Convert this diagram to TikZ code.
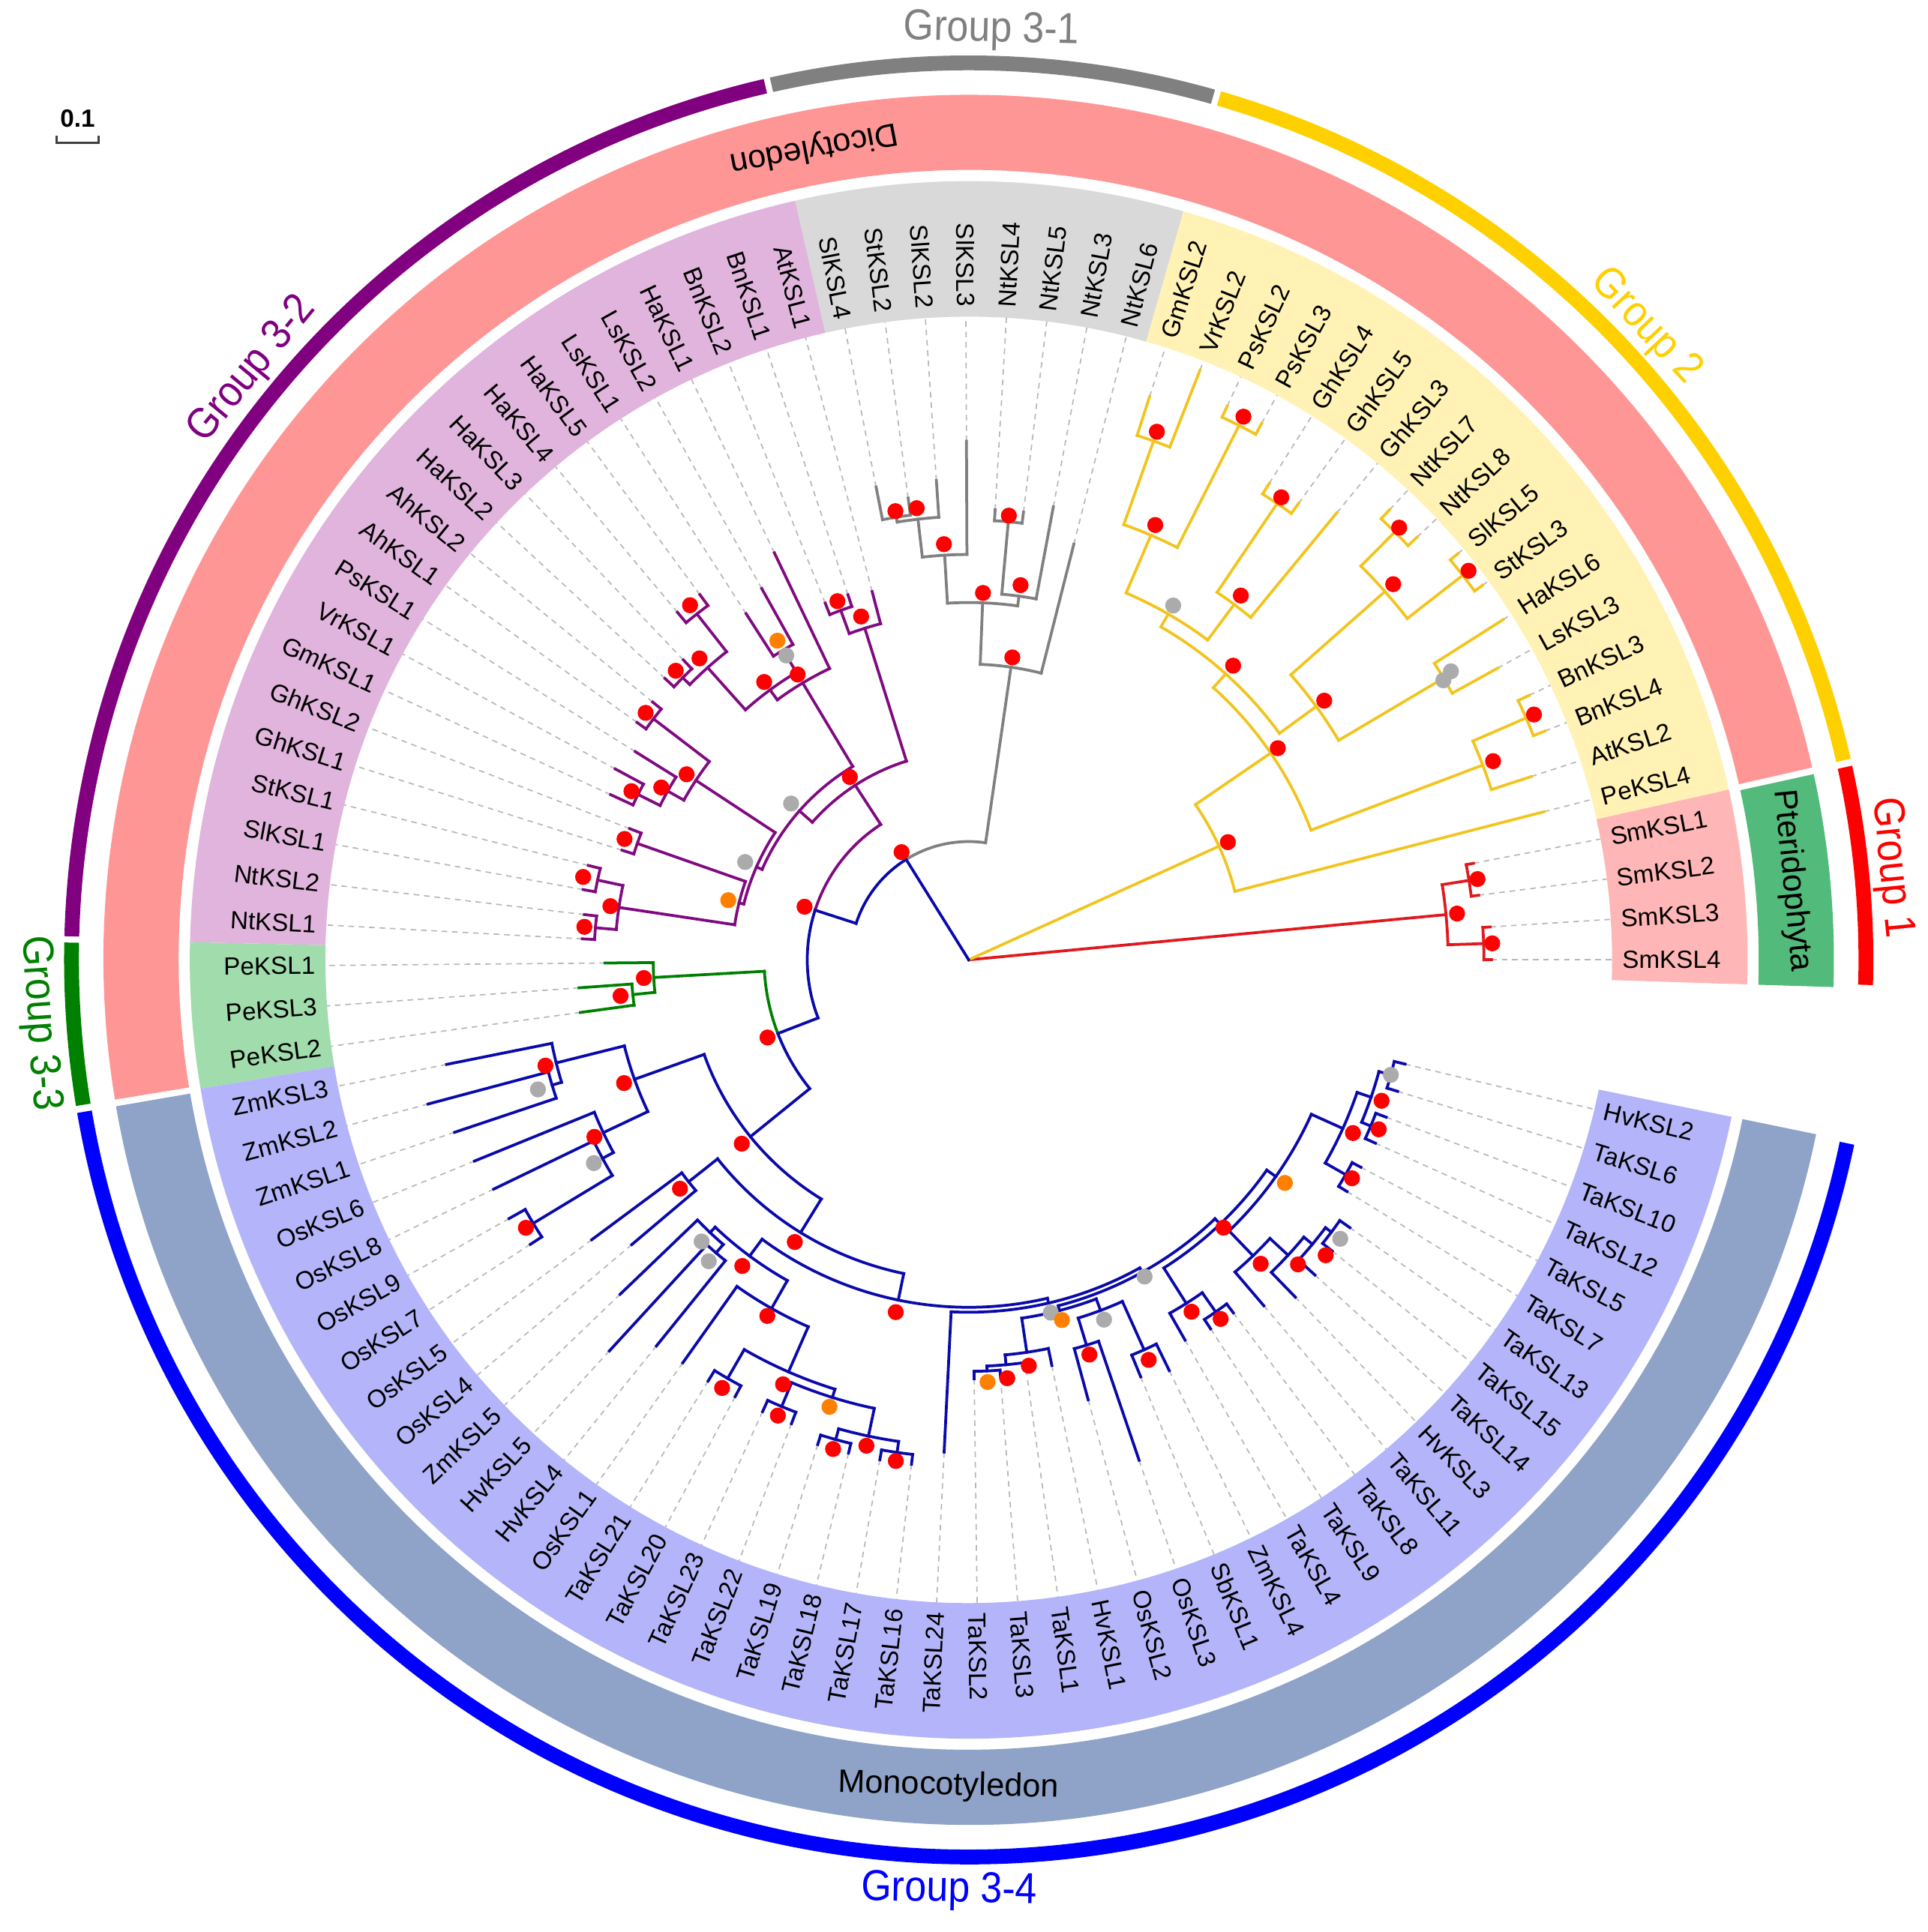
\documentclass[tikz,border=0pt]{standalone}
\usepackage{fontspec}
\setmainfont{Liberation Sans}
\newfontfamily\grpfont[FakeStretch=0.9]{Liberation Sans}

\definecolor{brRed}{RGB}{225,25,30}
\definecolor{brYel}{RGB}{242,196,30}
\definecolor{brGry}{RGB}{128,128,128}
\definecolor{brPur}{RGB}{128,10,128}
\definecolor{brGrn}{RGB}{0,128,0}
\definecolor{brBlu}{RGB}{10,10,170}
\definecolor{bdSm}{RGB}{255,182,182}
\definecolor{bdYel}{RGB}{255,242,180}
\definecolor{bdGry}{RGB}{217,217,217}
\definecolor{bdPur}{RGB}{224,180,220}
\definecolor{bdGrn}{RGB}{160,220,172}
\definecolor{bdBlu}{RGB}{180,180,250}
\definecolor{clDi}{RGB}{255,150,150}
\definecolor{clMo}{RGB}{143,162,200}
\definecolor{clPt}{RGB}{82,186,122}
\definecolor{gpRed}{RGB}{255,0,0}
\definecolor{gpYel}{RGB}{255,208,0}
\definecolor{gpGry}{RGB}{128,128,128}
\definecolor{gpPur}{RGB}{128,0,128}
\definecolor{gpGrn}{RGB}{0,128,0}
\definecolor{gpBlu}{RGB}{0,0,255}

% tree pieces in polar form (angle in degrees, radius in picture units)
\newcommand{\tstem}[4]{\draw[#1] (#2:#3) -- (#2:#4);}
\newcommand{\tbow}[4]{\draw[#1] (#3:#2) arc[start angle=#3, end angle=#4, radius=#2];}
\newcommand{\tclade}[5]{\pgfmathsetmacro\cdang{(#4+#5)/2}%
  \draw[#1] (\cdang:#2) -- (\cdang:#3);%
  \draw[#1] (#4:#3) arc[start angle=#4, end angle=#5, radius=#3];}
\newcommand{\tleaf}[4]{\pgfmathsetmacro\lfang{3.61*#3}%
  \draw[tipline] (\lfang:#4) -- (\lfang:522);%
  \draw[#1] (\lfang:#2) -- (\lfang:#4);}
\newcommand{\tdot}[3]{\fill[#1] (#2:#3) circle[radius=6.5];}
\newcommand{\ringpart}[5]{\fill[#1] (#2:#4) arc[start angle=#2, end angle=#3, radius=#4]
  -- (#3:#5) arc[start angle=#3, end angle=#2, radius=#5] -- cycle;}

\begin{document}
\begin{tikzpicture}[
    x=0.02cm, y=0.02cm,
    tbr/.style={line width=1.3pt, line cap=rect},
    tRed/.style={tbr, draw=brRed},
    tYel/.style={tbr, draw=brYel},
    tGry/.style={tbr, draw=brGry},
    tPur/.style={tbr, draw=brPur},
    tGrn/.style={tbr, draw=brGrn},
    tBlu/.style={tbr, draw=brBlu},
    tipline/.style={draw=black!28, line width=0.6pt, dash pattern=on 2.6pt off 2.2pt},
    dR/.style={fill=red},
    dO/.style={fill=orange},
    dG/.style={fill=black!33},
    leaflab/.style={inner sep=0pt, font=\fontsize{11.5}{13}\selectfont},
    grplab/.style={inner sep=0pt, font=\grpfont\fontsize{20}{22}\selectfont},
    cladelab/.style={inner sep=0pt, font=\fontsize{15}{17}\selectfont},
  ]
  \useasboundingbox (-786,-789) rectangle (778,779);

  % label bands
  \ringpart{bdSm}{-1.805}{12.635}{522}{632}
  \ringpart{bdYel}{12.635}{74.005}{522}{632}
  \ringpart{bdGry}{74.005}{102.885}{522}{632}
  \ringpart{bdPur}{102.885}{178.695}{522}{632}
  \ringpart{bdGrn}{178.695}{189.525}{522}{632}
  \ringpart{bdBlu}{189.525}{348.365}{522}{632}

  % clade bands
  \ringpart{clPt}{-1.805}{12.4}{641}{702}
  \ringpart{clDi}{12.85}{189.3}{641}{702}
  \ringpart{clMo}{189.75}{348.365}{641}{702}

  % group rings
  \ringpart{gpRed}{-1.6}{12.4}{722}{734}
  \ringpart{gpYel}{12.85}{73.8}{722}{734}
  \ringpart{gpGry}{74.2}{102.7}{722}{734}
  \ringpart{gpPur}{103.1}{178.5}{722}{734}
  \ringpart{gpGrn}{178.9}{189.3}{722}{734}
  \ringpart{gpBlu}{189.75}{348.2}{722}{734}

  % root
  \tstem{tRed}{5.415}{0}{389}
  \tstem{tYel}{24.424}{0}{223}
  \tstem{tBlu}{121.928}{0}{96}

  % group 1
  \tbow{tRed}{389}{1.805}{9.025}
  \tclade{tRed}{389}{411}{7.22}{10.83}
  \tleaf{tRed}{411}{2}{417} \tleaf{tRed}{411}{3}{417}
  \tclade{tRed}{389}{418}{0}{3.61}
  \tleaf{tRed}{418}{0}{424} \tleaf{tRed}{418}{1}{424}

  % group 2
  \tbow{tYel}{223}{14.44}{34.408}
  \tleaf{tYel}{223}{4}{482}
  \tclade{tYel}{223}{297}{20.7575}{48.058}
  \tclade{tYel}{297}{446}{18.05}{23.465}
  \tleaf{tYel}{446}{5}{480}
  \tclade{tYel}{446}{493}{21.66}{25.27}
  \tleaf{tYel}{493}{6}{503} \tleaf{tYel}{493}{7}{503}
  \tclade{tYel}{297}{312}{36.1}{60.016}
  \tclade{tYel}{312}{349}{30.685}{41.515}
  \tclade{tYel}{349}{448}{28.88}{32.49}
  \tleaf{tYel}{448}{8}{490} \tleaf{tYel}{448}{9}{514}
  \tclade{tYel}{349}{451}{37.905}{45.125}
  \tclade{tYel}{451}{508}{36.1}{39.71}
  \tleaf{tYel}{508}{10}{516} \tleaf{tYel}{508}{11}{516}
  \tclade{tYel}{451}{490}{43.32}{46.93}
  \tleaf{tYel}{490}{12}{500} \tleaf{tYel}{490}{13}{500}
  \tclade{tYel}{312}{324}{53.2475}{66.785}
  \tclade{tYel}{324}{360}{50.54}{55.955}
  \tleaf{tYel}{360}{14}{470}
  \tclade{tYel}{360}{447}{54.15}{57.76}
  \tleaf{tYel}{447}{15}{457} \tleaf{tYel}{447}{16}{457}
  \tclade{tYel}{324}{375}{63.175}{70.395}
  \tclade{tYel}{375}{486}{61.37}{64.98}
  \tleaf{tYel}{486}{17}{496} \tleaf{tYel}{486}{18}{496}
  \tclade{tYel}{375}{447}{68.59}{72.2}
  \tleaf{tYel}{447}{19}{514} \tleaf{tYel}{447}{20}{480}

  % backbone
  \tbow{tGry}{96}{81.789}{121.928}
  \tbow{tBlu}{96}{121.928}{162.067}

  % group 3-1
  \tclade{tGry}{96}{240}{75.81}{87.768}
  \tleaf{tGry}{240}{21}{348}
  \tclade{tGry}{240}{290}{82.1275}{93.409}
  \tclade{tGry}{290}{298}{79.42}{84.835}
  \tleaf{tGry}{298}{22}{374}
  \tclade{tGry}{298}{357}{83.03}{86.64}
  \tleaf{tGry}{357}{23}{366} \tleaf{tGry}{357}{24}{366}
  \tclade{tGry}{290}{329}{90.25}{96.5675}
  \tleaf{tGry}{329}{25}{421}
  \tclade{tGry}{329}{360}{93.86}{99.275}
  \tleaf{tGry}{360}{26}{390}
  \tclade{tGry}{360}{364}{97.47}{101.08}
  \tleaf{tGry}{364}{27}{378} \tleaf{tGry}{364}{28}{391}

  \tstem{tBlu}{162.067}{96}{131}
  \tbow{tPur}{131}{123.022}{162.067}
  \tbow{tBlu}{131}{162.067}{201.112}

  % group 3-2
  \tclade{tPur}{131}{169}{107.3975}{138.6465}
  \tclade{tPur}{169}{282}{104.69}{110.105}
  \tleaf{tPur}{282}{29}{309}
  \tclade{tPur}{282}{302}{108.3}{111.91}
  \tleaf{tPur}{302}{30}{312} \tleaf{tPur}{302}{31}{312}
  \tclade{tPur}{169}{183}{120.935}{156.358}
  \tclade{tPur}{183}{262}{115.52}{126.35}
  \tleaf{tPur}{262}{32}{366}
  \tclade{tPur}{262}{272}{120.935}{131.765}
  \tclade{tPur}{272}{293}{119.13}{122.74}
  \tleaf{tPur}{293}{33}{345} \tleaf{tPur}{293}{34}{334}
  \tclade{tPur}{272}{318}{128.155}{135.375}
  \tclade{tPur}{318}{357}{126.35}{129.96}
  \tleaf{tPur}{357}{35}{368} \tleaf{tPur}{357}{36}{368}
  \tclade{tPur}{318}{326}{133.57}{137.18}
  \tleaf{tPur}{326}{37}{336} \tleaf{tPur}{326}{38}{336}
  \tclade{tPur}{183}{188}{146.656}{166.06}
  \tclade{tPur}{188}{265}{142.595}{150.7175}
  \tclade{tPur}{265}{322}{140.79}{144.4}
  \tleaf{tPur}{322}{39}{331} \tleaf{tPur}{322}{40}{331}
  \tclade{tPur}{265}{280}{148.01}{153.425}
  \tleaf{tPur}{280}{41}{319}
  \tclade{tPur}{280}{300}{151.62}{155.23}
  \tleaf{tPur}{300}{42}{326} \tleaf{tPur}{300}{43}{320}
  \tclade{tPur}{188}{192}{160.645}{171.475}
  \tclade{tPur}{192}{285}{158.84}{162.45}
  \tleaf{tPur}{285}{44}{295} \tleaf{tPur}{285}{45}{295}
  \tclade{tPur}{192}{287}{167.865}{175.085}
  \tclade{tPur}{287}{308}{166.06}{169.67}
  \tleaf{tPur}{308}{46}{318} \tleaf{tPur}{308}{47}{318}
  \tclade{tPur}{287}{304}{173.28}{176.89}
  \tleaf{tPur}{304}{48}{314} \tleaf{tPur}{304}{49}{314}

  \tstem{tBlu}{201.112}{131}{166}
  \tbow{tGrn}{166}{183.2075}{201.112}
  \tbow{tBlu}{166}{201.112}{219.017}

  % group 3-3
  \tclade{tGrn}{166}{256}{180.5}{185.915}
  \tleaf{tGrn}{256}{50}{295}
  \tclade{tGrn}{256}{274}{184.11}{187.72}
  \tleaf{tGrn}{274}{51}{317} \tleaf{tGrn}{274}{52}{318}

  % group 3-4
  \tclade{tBlu}{166}{228}{199.678}{238.355}
  \tclade{tBlu}{228}{288}{194.0375}{205.319}
  \tclade{tBlu}{288}{345}{191.33}{196.745}
  \tleaf{tBlu}{345}{53}{432}
  \tclade{tBlu}{345}{353}{194.94}{198.55}
  \tleaf{tBlu}{353}{54}{454} \tleaf{tBlu}{353}{55}{440}
  \tclade{tBlu}{288}{328}{202.16}{208.4775}
  \tleaf{tBlu}{328}{56}{433}
  \tclade{tBlu}{328}{338}{205.77}{211.185}
  \tleaf{tBlu}{338}{57}{428}
  \tclade{tBlu}{338}{413}{209.38}{212.99}
  \tleaf{tBlu}{413}{58}{428} \tleaf{tBlu}{413}{59}{424}
  \tclade{tBlu}{228}{260}{218.405}{258.305}
  \tclade{tBlu}{260}{290}{216.6}{220.21}
  \tleaf{tBlu}{290}{60}{381} \tleaf{tBlu}{290}{61}{358}
  \tclade{tBlu}{260}{282}{233.522}{283.089}
  \tclade{tBlu}{282}{299}{226.5275}{240.516}
  \tclade{tBlu}{299}{305}{223.82}{229.235}
  \tleaf{tBlu}{305}{62}{392}
  \tclade{tBlu}{305}{314}{227.43}{231.04}
  \tleaf{tBlu}{314}{63}{431} \tleaf{tBlu}{314}{64}{403}
  \tclade{tBlu}{299}{325}{234.65}{246.3825}
  \tleaf{tBlu}{325}{65}{401}
  \tclade{tBlu}{325}{365}{240.065}{252.7}
  \tclade{tBlu}{365}{392}{238.26}{241.87}
  \tleaf{tBlu}{392}{66}{402} \tleaf{tBlu}{392}{67}{402}
  \tclade{tBlu}{365}{372}{247.285}{258.115}
  \tclade{tBlu}{372}{393}{245.48}{249.09}
  \tleaf{tBlu}{393}{68}{403} \tleaf{tBlu}{393}{69}{403}
  \tclade{tBlu}{372}{395}{254.505}{261.725}
  \tclade{tBlu}{395}{404}{252.7}{256.31}
  \tleaf{tBlu}{404}{70}{412} \tleaf{tBlu}{404}{71}{412}
  \tclade{tBlu}{395}{404}{259.92}{263.53}
  \tleaf{tBlu}{404}{72}{412} \tleaf{tBlu}{404}{73}{412}
  \tclade{tBlu}{282}{286}{267.14}{299.037}
  \tleaf{tBlu}{286}{74}{400}
  \tclade{tBlu}{286}{290}{284.5125}{313.562}
  \tclade{tBlu}{290}{294}{278.42}{290.605}
  \tclade{tBlu}{294}{322}{275.2625}{281.58}
  \tleaf{tBlu}{322}{78}{336}
  \tclade{tBlu}{322}{330}{272.555}{277.97}
  \tleaf{tBlu}{330}{77}{336}
  \tclade{tBlu}{330}{334}{270.75}{274.36}
  \tleaf{tBlu}{334}{75}{340} \tleaf{tBlu}{334}{76}{340}
  \tclade{tBlu}{294}{304}{286.995}{294.215}
  \tclade{tBlu}{304}{327}{285.19}{288.8}
  \tleaf{tBlu}{327}{79}{370} \tleaf{tBlu}{327}{80}{429}
  \tclade{tBlu}{304}{347}{292.41}{296.02}
  \tleaf{tBlu}{347}{81}{366} \tleaf{tBlu}{347}{82}{371}
  \tclade{tBlu}{290}{296}{302.3375}{324.787}
  \tclade{tBlu}{296}{330}{299.63}{305.045}
  \tleaf{tBlu}{330}{83}{355}
  \tclade{tBlu}{330}{349}{303.24}{306.85}
  \tleaf{tBlu}{349}{84}{358} \tleaf{tBlu}{349}{85}{358}
  \tclade{tBlu}{296}{305}{313.8445}{335.73}
  \tclade{tBlu}{305}{333}{310.46}{317.229}
  \tleaf{tBlu}{333}{86}{369}
  \tclade{tBlu}{333}{353}{314.07}{320.3875}
  \tleaf{tBlu}{353}{87}{381}
  \tclade{tBlu}{353}{362}{317.68}{323.095}
  \tleaf{tBlu}{362}{88}{380}
  \tclade{tBlu}{362}{368}{321.29}{324.9}
  \tleaf{tBlu}{368}{89}{378} \tleaf{tBlu}{368}{90}{378}
  \tclade{tBlu}{305}{333}{330.315}{341.145}
  \tclade{tBlu}{333}{352}{328.51}{332.12}
  \tleaf{tBlu}{352}{91}{360} \tleaf{tBlu}{352}{92}{360}
  \tclade{tBlu}{333}{345}{337.535}{344.755}
  \tclade{tBlu}{345}{353}{335.73}{339.34}
  \tleaf{tBlu}{353}{93}{362} \tleaf{tBlu}{353}{94}{362}
  \tclade{tBlu}{345}{355}{342.95}{346.56}
  \tleaf{tBlu}{355}{95}{364} \tleaf{tBlu}{355}{96}{364}

  % support dots
  \tdot{dR}{5.415}{398} \tdot{dR}{9.025}{418} \tdot{dR}{1.805}{425}
  \tdot{dR}{24.424}{231} \tdot{dR}{34.408}{304} \tdot{dR}{48.058}{321}
  \tdot{dR}{36.1}{357} \tdot{dR}{41.515}{460} \tdot{dR}{45.125}{495}
  \tdot{dR}{37.905}{514} \tdot{dG}{30.5}{447} \tdot{dG}{30.9}{456}
  \tdot{dR}{20.7575}{455} \tdot{dR}{23.465}{500} \tdot{dR}{55.955}{453}
  \tdot{dR}{53.2475}{369} \tdot{dR}{66.785}{384} \tdot{dR}{70.395}{455}
  \tdot{dR}{63.175}{494} \tdot{dG}{60.016}{332}
  \tdot{dR}{81.789}{248} \tdot{dR}{87.768}{298} \tdot{dR}{82.1275}{307}
  \tdot{dR}{84.835}{362} \tdot{dR}{93.409}{338} \tdot{dR}{96.5675}{369}
  \tdot{dR}{99.275}{369}
  \tdot{dR}{121.928}{103} \tdot{dR}{162.067}{140} \tdot{dR}{201.112}{175}
  \tdot{dR}{123.022}{177} \tdot{dR}{107.3975}{292} \tdot{dR}{110.105}{310}
  \tdot{dG}{138.6465}{192} \tdot{dR}{120.935}{270} \tdot{dG}{120.935}{288}
  \tdot{dO}{120.935}{302} \tdot{dR}{126.35}{280} \tdot{dR}{131.765}{328}
  \tdot{dR}{128.155}{366} \tdot{dR}{135.375}{334} \tdot{dG}{156.358}{198}
  \tdot{dR}{146.656}{274} \tdot{dR}{142.595}{330} \tdot{dR}{150.7175}{286}
  \tdot{dR}{153.425}{306} \tdot{dO}{166.06}{201} \tdot{dR}{160.645}{296}
  \tdot{dR}{171.475}{294} \tdot{dR}{167.865}{320} \tdot{dR}{175.085}{313}
  \tdot{dR}{183.2075}{264} \tdot{dR}{185.915}{284}
  \tdot{dR}{219.017}{237} \tdot{dR}{199.678}{297} \tdot{dR}{194.0375}{354}
  \tdot{dG}{196.745}{365} \tdot{dR}{205.319}{336} \tdot{dG}{208.4775}{346}
  \tdot{dR}{211.185}{420} \tdot{dR}{218.405}{299} \tdot{dR}{238.355}{269}
  \tdot{dR}{258.305}{292} \tdot{dR}{233.522}{309} \tdot{dG}{226.5275}{315}
  \tdot{dG}{229.235}{323} \tdot{dR}{240.516}{332} \tdot{dR}{246.3825}{376}
  \tdot{dR}{240.065}{401} \tdot{dR}{247.285}{401} \tdot{dO}{252.7}{380}
  \tdot{dR}{254.505}{412} \tdot{dR}{258.115}{403} \tdot{dR}{261.725}{411}
  \tdot{dG}{283.089}{294} \tdot{dO}{284.5125}{302} \tdot{dR}{278.42}{333}
  \tdot{dR}{275.2625}{341} \tdot{dO}{272.555}{343} \tdot{dG}{299.037}{294}
  \tdot{dG}{290.605}{312} \tdot{dR}{286.995}{335} \tdot{dR}{294.215}{356}
  \tdot{dR}{302.3375}{338} \tdot{dR}{305.045}{356} \tdot{dR}{313.562}{300}
  \tdot{dO}{324.787}{314} \tdot{dR}{313.8445}{342} \tdot{dR}{317.229}{364}
  \tdot{dR}{320.3875}{376} \tdot{dG}{323.095}{377} \tdot{dR}{335.73}{342}
  \tdot{dR}{330.315}{358} \tdot{dR}{337.535}{360} \tdot{dR}{341.145}{354}
  \tdot{dG}{344.755}{355}

  % leaf labels
  \foreach \nm [count=\k from 0] in {SmKSL4, SmKSL3, SmKSL2, SmKSL1, PeKSL4, AtKSL2,
      BnKSL4, BnKSL3, LsKSL3, HaKSL6, StKSL3, SlKSL5, NtKSL8, NtKSL7, GhKSL3, GhKSL5,
      GhKSL4, PsKSL3, PsKSL2, VrKSL2, GmKSL2, NtKSL6, NtKSL3, NtKSL5, NtKSL4, SlKSL3,
      SlKSL2, StKSL2, SlKSL4, AtKSL1, BnKSL1, BnKSL2, HaKSL1, LsKSL2, LsKSL1, HaKSL5,
      HaKSL4, HaKSL3, HaKSL2, AhKSL2, AhKSL1, PsKSL1, VrKSL1, GmKSL1, GhKSL2, GhKSL1,
      StKSL1, SlKSL1, NtKSL2, NtKSL1, PeKSL1, PeKSL3, PeKSL2, ZmKSL3, ZmKSL2, ZmKSL1,
      OsKSL6, OsKSL8, OsKSL9, OsKSL7, OsKSL5, OsKSL4, ZmKSL5, HvKSL5, HvKSL4, OsKSL1,
      TaKSL21, TaKSL20, TaKSL23, TaKSL22, TaKSL19, TaKSL18, TaKSL17, TaKSL16, TaKSL24,
      TaKSL2, TaKSL3, TaKSL1, HvKSL1, OsKSL2, OsKSL3, SbKSL1, ZmKSL4, TaKSL4, TaKSL9,
      TaKSL8, TaKSL11, HvKSL3, TaKSL14, TaKSL15, TaKSL13, TaKSL7, TaKSL5, TaKSL12,
      TaKSL10, TaKSL6, HvKSL2}{
    \pgfmathsetmacro\lbang{3.61*\k}
    \pgfmathtruncatemacro\lbleft{(\lbang>90)*(\lbang<270)}
    \ifnum\lbleft=1
      \node[leaflab, anchor=east, rotate=\lbang+180] (lab\k) at (\lbang:530) {\nm};
    \else
      \node[leaflab, anchor=west, rotate=\lbang] (lab\k) at (\lbang:530) {\nm};
    \fi
  }

  % clade band labels
  \node[cladelab, rotate=190.8] (dico) at (100.8:671) {Dicotyledon};
  \node[cladelab, rotate=-1.4] (mono) at (268.6:671) {Monocotyledon};
  \node[cladelab, rotate=-84.5] (pter) at (5.5:671) {Pteridophyta};

  % group labels
  \node[grplab, text=gpRed, rotate=-84.3] (grp1) at (5.7:752) {Group 1};
  \node[grplab, text=gpYel, rotate=-46.9] (grp2) at (43.1:752) {Group 2};
  \node[grplab, text=gpGry, rotate=-1.4] (grp31) at (88.6:754) {Group 3-1};
  \node[grplab, text=gpPur, rotate=50.5] (grp32) at (140.5:753) {Group 3-2};
  \node[grplab, text=gpGrn, rotate=-86.1] (grp33) at (183.9:756) {Group 3-3};
  \node[grplab, text=gpBlu, rotate=-1.2] (grp34) at (268.8:756) {Group 3-4};

  % scale bar
  \node[inner sep=0pt, font=\bfseries\fontsize{11.5}{13}\selectfont] (sbar) at (-723,683) {0.1};
  \draw[line width=0.9pt, black!75] (-740,669) -- (-740,663) -- (-706,663) -- (-706,669);
\end{tikzpicture}
\end{document}
